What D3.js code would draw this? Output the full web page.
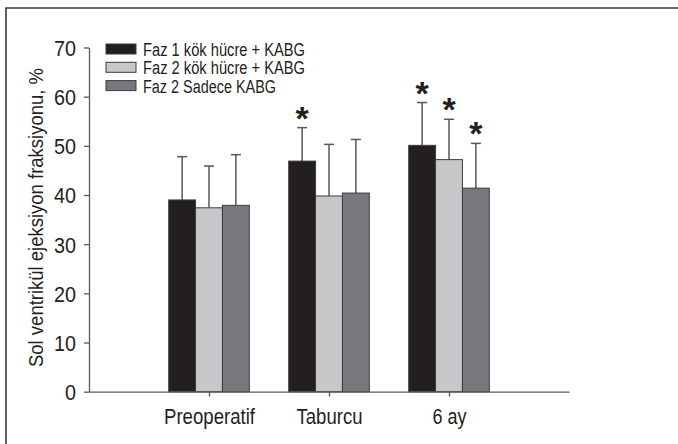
<!DOCTYPE html>
<html>
<head>
<meta charset="utf-8">
<script src="https://cdn.jsdelivr.net/npm/d3@7"></script>
<style>
  html, body { margin: 0; padding: 0; background: #fff; }
  svg text { font-family: "Liberation Sans Narrow", "Arial Narrow", "Liberation Sans", Arial, sans-serif; fill: #231f20; }
</style>
</head>
<body>
<svg id="chart" width="678" height="444"></svg>
<script>
// ---- data ----
const categories = ["Preoperatif", "Taburcu", "6 ay"];
const seriesNames = ["Faz 1 kök hücre + KABG", "Faz 2 kök hücre + KABG", "Faz 2 Sadece KABG"];
const seriesColors = ["#231f20", "#c7c8ca", "#77787b"];
const faz1Values = [39.0, 46.9, 50.1];
const faz2Values = [37.4, 39.8, 47.2];
const faz2OnlyValues = [37.9, 40.4, 41.4];
const faz1ErrTop = [47.8, 53.7, 58.8];
const faz2ErrTop = [45.9, 50.3, 55.4];
const faz2OnlyErrTop = [48.2, 51.3, 50.5];
const faz1Star = [false, true, true];
const faz2Star = [false, false, true];
const faz2OnlyStar = [false, false, true];
const yTicks = [0, 10, 20, 30, 40, 50, 60, 70];
const yTitle = "Sol ventrikül ejeksiyon fraksiyonu, %";

const seriesValues = [faz1Values, faz2Values, faz2OnlyValues];
const seriesErr = [faz1ErrTop, faz2ErrTop, faz2OnlyErrTop];
const seriesStar = [faz1Star, faz2Star, faz2OnlyStar];

const rows = [];
categories.forEach((c, ci) => {
  seriesNames.forEach((s, si) => {
    rows.push({cat: c, series: s, si, value: seriesValues[si][ci], err: seriesErr[si][ci], star: seriesStar[si][ci]});
  });
});

// ---- layout ----
const svg = d3.select("#chart");
const x0 = 89, x1 = 569, yBottom = 391.7, yTop = 47.5;

// frame
svg.append("path").attr("d", "M6,444 L6,8 L678,8")
  .attr("fill", "none").attr("stroke", "#3a3a3a").attr("stroke-width", 1.6);

const x = d3.scalePoint().domain(categories).range([x0, x1]).padding(1);
const xs = d3.scaleBand().domain(seriesNames).range([-40.3, 40.3]).padding(0);
const y = d3.scaleLinear().domain([0, 70]).range([yBottom, yTop]);
const color = d3.scaleOrdinal().domain(seriesNames).range(seriesColors);

// error bars (behind bars)
const eg = svg.append("g");
rows.forEach(d => {
  const cx = x(d.cat) + xs(d.series) + xs.bandwidth() / 2;
  eg.append("line").attr("x1", cx).attr("x2", cx).attr("y1", y(d.value)).attr("y2", y(d.err))
    .attr("stroke", "#58595b").attr("stroke-width", 1.5);
  eg.append("line").attr("x1", cx - 5).attr("x2", cx + 5).attr("y1", y(d.err)).attr("y2", y(d.err))
    .attr("stroke", "#58595b").attr("stroke-width", 1.5);
});

// bars
svg.append("g").selectAll("rect").data(rows).join("rect")
  .attr("x", d => x(d.cat) + xs(d.series))
  .attr("y", d => y(d.value))
  .attr("width", xs.bandwidth())
  .attr("height", d => y(0) - y(d.value))
  .attr("fill", d => color(d.series))
  .attr("stroke", "#3d3d3f").attr("stroke-width", 1);

// stars
svg.append("g").selectAll("text").data(rows.filter(d => d.star)).join("text")
  .attr("x", d => x(d.cat) + xs(d.series) + xs.bandwidth() / 2)
  .attr("y", d => y(d.err) + 2)
  .attr("text-anchor", "middle")
  .style("font-family", "'Liberation Sans', Arial, sans-serif")
  .style("font-weight", "bold")
  .style("font-size", "34px")
  .text("*");

// y axis
const yAxis = svg.append("g").attr("transform", `translate(${x0},0)`)
  .call(d3.axisLeft(y).tickValues(yTicks).tickSize(5).tickSizeOuter(0).tickPadding(8));
yAxis.select(".domain").attr("stroke", "#58595b").attr("stroke-width", 1.3);
yAxis.selectAll(".tick line").attr("stroke", "#58595b").attr("stroke-width", 1.3);
yAxis.selectAll(".tick text").style("font-size", "22px").attr("fill", "#231f20").attr("dy", "0.36em")
  .attr("textLength", d => d === 0 ? 11 : 22).attr("lengthAdjust", "spacingAndGlyphs");

// x axis
const xAxis = svg.append("g").attr("transform", `translate(0,${yBottom})`)
  .call(d3.axisBottom(x).tickSize(5).tickSizeOuter(0).tickPadding(12));
xAxis.select(".domain").attr("stroke", "#58595b").attr("stroke-width", 1.3);
xAxis.selectAll(".tick line").attr("stroke", "#58595b").attr("stroke-width", 1.3);
const xLabelWidths = {"Preoperatif": 91, "Taburcu": 66, "6 ay": 34};
xAxis.selectAll(".tick text").style("font-size", "22px").attr("fill", "#231f20")
  .attr("dy", "0.71em")
  .attr("textLength", d => xLabelWidths[d]).attr("lengthAdjust", "spacingAndGlyphs");

// y title
svg.append("text")
  .attr("transform", "translate(43,217.5) rotate(-90)")
  .attr("text-anchor", "middle")
  .style("font-size", "21px")
  .attr("textLength", 299).attr("lengthAdjust", "spacingAndGlyphs")
  .text(yTitle);

// legend
const legendWidths = [162, 162, 133];
const lg = svg.append("g");
seriesNames.forEach((s, i) => {
  const base = 56 + i * 18.3;
  lg.append("rect").attr("x", 106).attr("y", base - 12).attr("width", 30).attr("height", 10)
    .attr("fill", color(s)).attr("stroke", "#3d3d3f").attr("stroke-width", 1);
  lg.append("text").attr("x", 143).attr("y", base)
    .style("font-size", "18px")
    .attr("textLength", legendWidths[i]).attr("lengthAdjust", "spacingAndGlyphs")
    .text(s);
});
</script>
</body>
</html>
